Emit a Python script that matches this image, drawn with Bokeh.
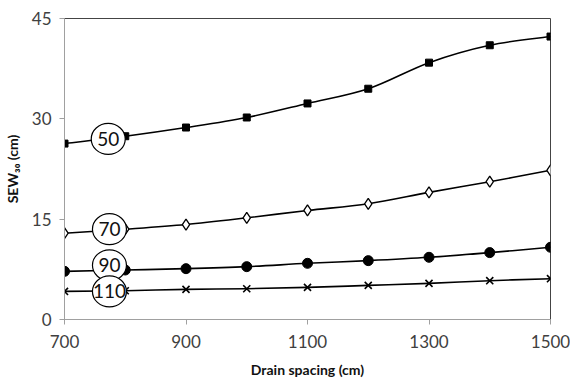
import numpy as np
from bokeh.plotting import figure
from bokeh.models import Range1d, FixedTicker
from bokeh.core.properties import value
from bokeh.embed import file_html
from bokeh.resources import INLINE

spacing = [700, 800, 900, 1000, 1100, 1200, 1300, 1400, 1500]
sew_50 = [26.3, 27.4, 28.7, 30.2, 32.3, 34.5, 38.4, 41.0, 42.3]
sew_70 = [12.9, 13.5, 14.2, 15.2, 16.3, 17.3, 19.0, 20.6, 22.3]
sew_90 = [7.2, 7.4, 7.6, 7.9, 8.4, 8.8, 9.3, 10.0, 10.8]
sew_110 = [4.2, 4.3, 4.5, 4.6, 4.8, 5.1, 5.4, 5.8, 6.1]
labels = ["50", "70", "90", "110"]
label_x = [772, 774, 774, 774]
label_y = [27.0, 13.5, 8.1, 4.2]
x_ticks = [700, 900, 1100, 1300, 1500]
y_ticks = [0, 15, 30, 45]

FONT = "Lato"

p = figure(width=570, height=380, output_backend="svg", toolbar_location=None,
           x_range=Range1d(700, 1500), y_range=Range1d(0, 45),
           min_border_left=62, min_border_right=20, min_border_top=18, min_border_bottom=61)
p.xgrid.visible = False
p.ygrid.visible = False
p.outline_line_color = "#444444"
p.outline_line_width = 1

for ax in (p.xaxis, p.yaxis):
    ax.axis_line_color = "#a0a0a0"
    ax.major_tick_line_color = "#a0a0a0"
    ax.minor_tick_line_color = None
    ax.major_tick_in = 0
    ax.major_tick_out = 5
    ax.major_label_text_font = FONT
    ax.major_label_text_font_size = "17px"
    ax.major_label_text_color = "#404040"
    ax.axis_label_text_font = FONT
    ax.axis_label_text_font_size = "14px"
    ax.axis_label_text_font_style = "bold"
    ax.axis_label_text_color = "#111111"

p.xaxis.ticker = FixedTicker(ticks=x_ticks)
p.yaxis.ticker = FixedTicker(ticks=y_ticks)
p.xaxis.axis_label = "Drain spacing (cm)"
p.yaxis.axis_label = "SEW\u2083\u2080 (cm)"
p.xaxis.major_label_standoff = 10
p.xaxis.axis_label_standoff = 10
p.yaxis.major_label_standoff = 8
p.yaxis.axis_label_standoff = 8


def smooth(xs, ys):
    # Catmull-Rom -> cubic Bezier segments (Excel-like smoothed line)
    xs = np.asarray(xs, float)
    ys = np.asarray(ys, float)
    n = len(xs)
    x0, y0, x1, y1, cx0, cy0, cx1, cy1 = ([] for _ in range(8))
    for i in range(n - 1):
        pxm = xs[i - 1] if i > 0 else xs[i]
        pym = ys[i - 1] if i > 0 else ys[i]
        pxp = xs[i + 2] if i + 2 < n else xs[i + 1]
        pyp = ys[i + 2] if i + 2 < n else ys[i + 1]
        x0.append(xs[i]); y0.append(ys[i]); x1.append(xs[i + 1]); y1.append(ys[i + 1])
        cx0.append(xs[i] + (xs[i + 1] - pxm) / 6); cy0.append(ys[i] + (ys[i + 1] - pym) / 6)
        cx1.append(xs[i + 1] - (pxp - xs[i]) / 6); cy1.append(ys[i + 1] - (pyp - ys[i]) / 6)
    return dict(x0=x0, y0=y0, x1=x1, y1=y1, cx0=cx0, cy0=cy0, cx1=cx1, cy1=cy1)


for ys in (sew_50, sew_70, sew_90, sew_110):
    d = smooth(spacing, ys)
    p.bezier(x0=d["x0"], y0=d["y0"], x1=d["x1"], y1=d["y1"],
             cx0=d["cx0"], cy0=d["cy0"], cx1=d["cx1"], cy1=d["cy1"],
             line_color="black", line_width=1.6)

p.scatter(spacing, sew_50, marker="square", size=7, fill_color="black", line_color="black")
p.scatter(spacing, sew_70, marker="diamond", size=11, fill_color="white", line_color="black", line_width=1.3)
p.scatter(spacing, sew_90, marker="circle", size=10, fill_color="black", line_color="black")
p.scatter(spacing, sew_110, marker="x", size=10, line_color="black", line_width=1.6)

p.ellipse(x=label_x, y=label_y, width=34, height=31, width_units="screen", height_units="screen",
          fill_color="white", line_color="black", line_width=1.2)
p.text(x=label_x, y=label_y, text=labels, text_align="center", text_baseline="middle",
       text_font=value(FONT), text_font_size="19px", text_color="#111111")

open("out.html", "w").write(file_html(p, INLINE))
